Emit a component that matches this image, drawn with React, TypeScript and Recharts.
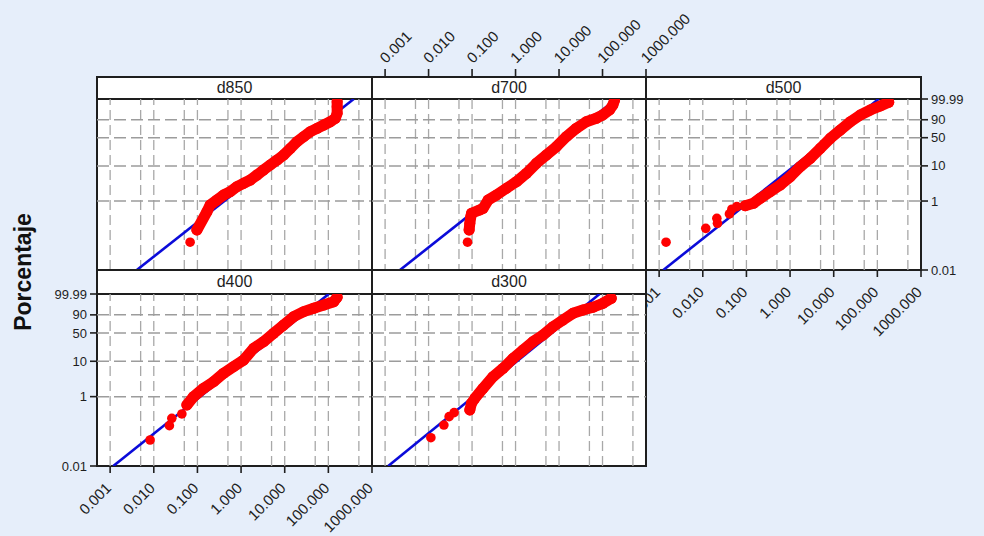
import React from "react";
import { ScatterChart, Scatter, XAxis, YAxis, ReferenceLine } from "recharts";

// axes
const X_DOMAIN = [0.0005, 1000];
const X_TICKS = [0.001, 0.01, 0.1, 1, 10, 100, 1000];
const X_GRID = [0.001, 0.005, 0.01, 0.05, 0.1, 0.5, 1, 5, 10, 50, 100, 500];
const Y_TICKS = [0.01, 1, 10, 50, 90, 99.99];
const Y_TICK_LABELS = ["0.01", "1", "10", "50", "90", "99.99"];
const Y_GRID = [1, 10, 50, 90];
const FIT_PCT = [0.01, 99.99];

// d850
const D850_X = [0.0972, 0.165, 0.196, 0.28, 0.396, 0.565, 0.805, 1.14, 1.63, 2.32, 3.28, 4.68, 6.67, 9.44, 13.5, 19.2, 27.2, 38.7, 55.2, 78.3, 111, 145, 159, 159, 159];
const D850_PCT = [0.145, 0.49, 0.77, 1.07, 1.49, 1.86, 2.59, 3.24, 4.02, 5.57, 7.69, 10.6, 14.4, 19.6, 28.9, 41.2, 52.3, 64.5, 72.7, 80.2, 86.7, 92.1, 97.1, 99.59, 99.95];
const D850_OUT_X = [0.068];
const D850_OUT_PCT = [0.064];
const D850_FIT_X = [0.00408, 382];

// d700
const D700_X = [0.0856, 0.0888, 0.0937, 0.0972, 0.151, 0.179, 0.234, 0.364, 0.618, 1.05, 1.78, 3.02, 5.12, 8.69, 14.7, 25.0, 42.4, 71.9, 102, 145, 173, 189];
const D700_PCT = [0.145, 0.227, 0.353, 0.443, 0.552, 0.618, 1.07, 1.49, 2.33, 3.59, 6.22, 11.8, 19.6, 31.6, 52.3, 72.7, 86.7, 92.1, 95.8, 98.8, 99.79, 99.98];
const D700_OUT_X = [0.0786];
const D700_OUT_PCT = [0.064];
const D700_FIT_X = [0.0022, 207];

// d500
const D500_X = [0.0937, 0.145, 0.207, 0.351, 0.595, 1.01, 1.71, 2.91, 4.93, 8.37, 14.2, 24.1, 40.8, 69.3, 117, 182];
const D500_PCT = [0.735, 0.862, 1.2, 1.86, 2.89, 4.98, 9.5, 16.1, 28.9, 48.6, 68.6, 86.7, 95.8, 98.8, 99.69, 99.94];
const D500_OUT_X = [0.00144, 0.0117, 0.021, 0.0217, 0.0408, 0.0464, 0.0604];
const D500_OUT_PCT = [0.064, 0.162, 0.317, 0.227, 0.423, 0.578, 0.687];
const D500_FIT_X = [0.00125, 107];

// d400
const D400_X = [0.0573, 0.0812, 0.138, 0.234, 0.396, 0.672, 1.14, 1.94, 3.28, 5.57, 9.44, 16.0, 27.2, 46.1, 78.3, 133, 159];
const D400_PCT = [0.576, 0.995, 1.73, 2.67, 4.63, 7.09, 10.8, 22.1, 32.1, 49.1, 69.1, 87.0, 94.2, 97.2, 98.8, 99.6, 99.94];
const D400_OUT_X = [0.00824, 0.0228, 0.0259, 0.044];
const D400_OUT_PCT = [0.0563, 0.146, 0.238, 0.317];
const D400_FIT_X = [0.00118, 102];

// d300
const D300_X = [0.0888, 0.0972, 0.116, 0.179, 0.304, 0.516, 0.876, 1.49, 2.52, 4.28, 7.26, 12.3, 20.9, 35.4, 60.1, 102, 159];
const D300_PCT = [0.413, 0.645, 0.896, 1.73, 3.71, 6.39, 12.0, 19.96, 32.1, 45.3, 64.9, 80.5, 92.2, 95.8, 97.8, 99.3, 99.9];
const D300_OUT_X = [0.0113, 0.0225, 0.0297, 0.0387];
const D300_OUT_PCT = [0.0656, 0.152, 0.265, 0.346];
const D300_FIT_X = [0.00118, 85.7];

const FONT = '"Liberation Sans", Arial, sans-serif';
const BG = "#e6eefa";
const RED = "#ff0000";
const BLUE = "#0b0bd9";
const INK = "#1e1e1e";

// weibull probability paper
const toW = (p: number) => Math.log(-Math.log(1 - p / 100));
const Y_TICKS_W = Y_TICKS.map(toW);

const ROWS = [
  { stripTop: 77, plotTop: 99, plotH: 171 },
  { stripTop: 270, plotTop: 294, plotH: 172 },
];

type AxisPos = "none" | "top" | "bottom" | "left" | "right";

const PANELS = [
  { name: "d850", x: D850_X, p: D850_PCT, ox: D850_OUT_X, op: D850_OUT_PCT, fit: D850_FIT_X, left: 97, width: 275, row: 0, xAxis: "none", yAxis: "none" },
  { name: "d700", x: D700_X, p: D700_PCT, ox: D700_OUT_X, op: D700_OUT_PCT, fit: D700_FIT_X, left: 372, width: 274, row: 0, xAxis: "top", yAxis: "none" },
  { name: "d500", x: D500_X, p: D500_PCT, ox: D500_OUT_X, op: D500_OUT_PCT, fit: D500_FIT_X, left: 646, width: 275, row: 0, xAxis: "bottom", yAxis: "right" },
  { name: "d400", x: D400_X, p: D400_PCT, ox: D400_OUT_X, op: D400_OUT_PCT, fit: D400_FIT_X, left: 97, width: 275, row: 1, xAxis: "bottom", yAxis: "left" },
  { name: "d300", x: D300_X, p: D300_PCT, ox: D300_OUT_X, op: D300_OUT_PCT, fit: D300_FIT_X, left: 372, width: 274, row: 1, xAxis: "none", yAxis: "none" },
];

const fmtX = (v: number) => v.toFixed(3);

function BottomTick({ x, y, payload }: any) {
  return (
    <g>
      <line x1={x} y1={y} x2={x} y2={y + 7} stroke={INK} strokeWidth={1.6} />
      <text x={x + 2} y={y + 23} textAnchor="end" transform={`rotate(-45 ${x + 2} ${y + 23})`} fontSize={15} fontFamily={FONT} fill={INK}>
        {fmtX(payload.value)}
      </text>
    </g>
  );
}

function TopTick({ x, y, payload }: any) {
  // axis sits above the strip, 22px over the plot top
  return (
    <g>
      <line x1={x} y1={y - 22} x2={x} y2={y - 30} stroke={INK} strokeWidth={1.6} />
      <text x={x + 1} y={y - 35} textAnchor="start" transform={`rotate(-45 ${x + 1} ${y - 35})`} fontSize={15} fontFamily={FONT} fill={INK}>
        {fmtX(payload.value)}
      </text>
    </g>
  );
}

const dot = (r: number) => (props: any) => <circle cx={props.cx} cy={props.cy} r={r} fill={RED} />;

function Panel({ cfg }: { cfg: (typeof PANELS)[number] }) {
  const row = ROWS[cfg.row];
  const xAxis = cfg.xAxis as AxisPos;
  const yAxis = cfg.yAxis as AxisPos;
  const xAxisH = xAxis === "none" ? 0 : 30;
  const yAxisW = yAxis === "left" ? 60 : yAxis === "right" ? 50 : 0;
  const chartLeft = yAxis === "left" ? cfg.left - yAxisW : cfg.left;
  const chartTop = xAxis === "top" ? row.plotTop - xAxisH : row.plotTop;

  const band = cfg.x.map((x, i) => ({ x, w: toW(cfg.p[i]) }));
  const outliers = cfg.ox.map((x, i) => ({ x, w: toW(cfg.op[i]) }));
  const fit = cfg.fit.map((x, i) => ({ x, w: toW(FIT_PCT[i]) }));

  return (
    <>
      <div
        style={{
          position: "absolute",
          left: cfg.left - 1,
          top: row.stripTop - 1,
          width: cfg.width + 2,
          height: row.plotTop + row.plotH - row.stripTop + 2,
          boxSizing: "border-box",
          border: `2px solid ${INK}`,
          background: "#fff",
        }}
      >
        <div
          style={{
            height: row.plotTop - row.stripTop,
            boxSizing: "border-box",
            borderBottom: `2px solid ${INK}`,
            display: "flex",
            alignItems: "center",
            justifyContent: "center",
            fontFamily: FONT,
            fontSize: 16,
            color: INK,
          }}
        >
          {cfg.name}
        </div>
      </div>
      <div style={{ position: "absolute", left: chartLeft, top: chartTop }}>
        <ScatterChart width={cfg.width + yAxisW} height={row.plotH + xAxisH} margin={{ top: 0, right: 0, bottom: 0, left: 0 }}>
          <XAxis
            type="number"
            dataKey="x"
            scale="log"
            domain={X_DOMAIN}
            ticks={X_TICKS}
            allowDataOverflow
            interval={0}
            hide={xAxis === "none"}
            orientation={xAxis === "top" ? "top" : "bottom"}
            height={30}
            tickSize={0}
            tickMargin={0}
            tickLine={false}
            axisLine={false}
            tick={xAxis === "top" ? <TopTick /> : <BottomTick />}
          />
          <YAxis
            type="number"
            dataKey="w"
            domain={[toW(0.01), toW(99.99)]}
            ticks={Y_TICKS_W}
            allowDataOverflow
            interval={0}
            hide={yAxis === "none"}
            orientation={yAxis === "right" ? "right" : "left"}
            width={yAxisW || 60}
            tickSize={7}
            tickMargin={3}
            axisLine={false}
            tickLine={{ stroke: INK, strokeWidth: 1.6 }}
            tick={{ fontSize: 13, fill: INK, fontFamily: FONT }}
            tickFormatter={(v: number) => Y_TICK_LABELS[Y_TICKS_W.findIndex((t) => Math.abs(t - v) < 1e-6)] ?? ""}
          />
          {X_GRID.map((g) => (
            <ReferenceLine key={`x${g}`} x={g} stroke="#a8a8a8" strokeWidth={1.3} strokeDasharray="10 5" />
          ))}
          {Y_GRID.map((g) => (
            <ReferenceLine key={`y${g}`} y={toW(g)} stroke="#9c9c9c" strokeWidth={1.5} strokeDasharray="12 5" />
          ))}
          <Scatter data={fit} line={{ stroke: BLUE, strokeWidth: 2.6 }} shape={() => <g />} isAnimationActive={false} />
          <Scatter
            data={band}
            line={{ stroke: RED, strokeWidth: 11, strokeLinecap: "round", strokeLinejoin: "round" }}
            shape={dot(5.5)}
            isAnimationActive={false}
          />
          <Scatter data={outliers} shape={dot(4.8)} isAnimationActive={false} />
        </ScatterChart>
      </div>
    </>
  );
}

export default function App() {
  return (
    <div style={{ position: "absolute", left: 0, top: 0, width: 984, height: 536, background: BG, overflow: "hidden" }}>
      <style>{`.recharts-surface{overflow:visible}`}</style>
      <svg width={60} height={536} style={{ position: "absolute", left: 0, top: 0 }}>
        <text x={31} y={272} transform="rotate(-90 31 272)" textAnchor="middle" fontSize={23} fontWeight="bold" fontFamily={FONT} fill="#111">
          Porcentaje
        </text>
      </svg>
      {PANELS.map((cfg) => (
        <Panel key={cfg.name} cfg={cfg} />
      ))}
    </div>
  );
}
